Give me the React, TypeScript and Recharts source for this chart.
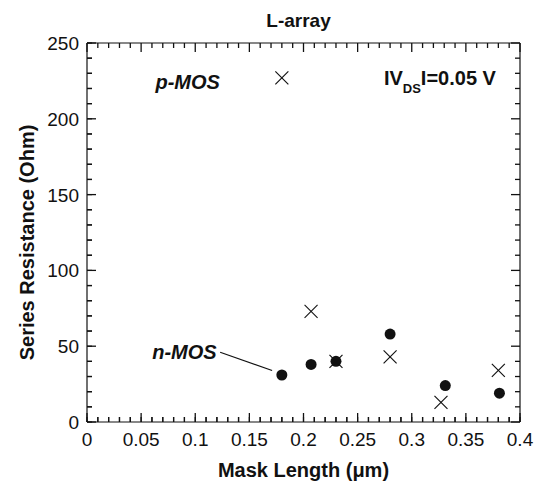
import React from "react";
import { ScatterChart, Scatter, XAxis, YAxis, ReferenceLine, ReferenceDot, Label } from "recharts";

// mask length (um) and series resistance (Ohm)
const nMosLength = [0.18, 0.207, 0.23, 0.28, 0.331, 0.381];
const nMosResistance = [31, 38, 40, 58, 24, 19];
const pMosLength = [0.18, 0.207, 0.23, 0.28, 0.327, 0.38];
const pMosResistance = [227, 73, 40, 43, 13, 34];

const xMajorTicks = [0, 0.05, 0.1, 0.15, 0.2, 0.25, 0.3, 0.35, 0.4];
const xTickLabels = ["0", "0.05", "0.1", "0.15", "0.2", "0.25", "0.3", "0.35", "0.4"];
const yMajorTicks = [0, 50, 100, 150, 200, 250];
const yTickLabels = ["0", "50", "100", "150", "200", "250"];

// minor ticks every 0.01 / every 10
const xMinorTicks = Array.from({ length: 41 }, (_, i) => i / 100);
const yMinorTicks = Array.from({ length: 26 }, (_, i) => i * 10);

const nMos = nMosLength.map((x, i) => ({ x, y: nMosResistance[i] }));
const pMos = pMosLength.map((x, i) => ({ x, y: pMosResistance[i] }));

const FONT = '"Liberation Sans", Arial, Helvetica, sans-serif';
const INK = "#111";
const MAJOR = 9;
const MINOR = 5;

const majorIdx = (list: number[], v: number) => list.findIndex((m) => Math.abs(m - v) < 1e-9);

const BottomLabel = (props: any) => (
  <text x={props.x} y={props.y + 24} textAnchor="middle" fontFamily={FONT} fontSize={19} fill={INK}>
    {xTickLabels[majorIdx(xMajorTicks, props.payload.value)] ?? ""}
  </text>
);

const LeftLabel = (props: any) => (
  <text x={props.x - 8} y={props.y + 7} textAnchor="end" fontFamily={FONT} fontSize={19} fill={INK}>
    {yTickLabels[majorIdx(yMajorTicks, props.payload.value)] ?? ""}
  </text>
);

const NoLabel = () => <g />;

// inward tick marks at both ends of a full-height / full-width reference line
const vTicks = (len: number) => (p: any) => {
  const top = Math.min(p.y1, p.y2);
  const bottom = Math.max(p.y1, p.y2);
  return (
    <g stroke={INK} strokeWidth={1.3}>
      <line x1={p.x1} x2={p.x1} y1={top} y2={top + len} />
      <line x1={p.x1} x2={p.x1} y1={bottom} y2={bottom - len} />
    </g>
  );
};

const hTicks = (len: number) => (p: any) => {
  const left = Math.min(p.x1, p.x2);
  const right = Math.max(p.x1, p.x2);
  return (
    <g stroke={INK} strokeWidth={1.3}>
      <line x1={left} x2={left + len} y1={p.y1} y2={p.y1} />
      <line x1={right} x2={right - len} y1={p.y1} y2={p.y1} />
    </g>
  );
};

const FilledDot = (props: any) => <circle cx={props.cx} cy={props.cy} r={5.5} fill={INK} />;

const Cross = (props: any) => {
  const { cx, cy } = props;
  const s = 6.5;
  return (
    <g stroke={INK} strokeWidth={1.1}>
      <line x1={cx - s} y1={cy - s} x2={cx + s} y2={cy + s} />
      <line x1={cx - s} y1={cy + s} x2={cx + s} y2={cy - s} />
    </g>
  );
};

const boldText = { fontFamily: FONT, fontWeight: 700, fill: INK } as const;
const frameLine = { stroke: INK, strokeWidth: 1.2 };

export default function App() {
  return (
    <div style={{ position: "absolute", left: 0, top: 0, width: 537, height: 483, background: "#fff" }}>
      <ScatterChart width={537} height={483} margin={{ top: 43, right: 17, bottom: 0, left: 0 }}>
        <XAxis
          xAxisId="b"
          type="number"
          dataKey="x"
          domain={[0, 0.4]}
          ticks={xMajorTicks}
          interval={0}
          height={61}
          tickSize={0}
          tickMargin={0}
          tickLine={false}
          axisLine={frameLine}
          tick={<BottomLabel />}
          allowDataOverflow
        >
          <Label
            content={(p: any) => (
              <text x={p.viewBox.x + p.viewBox.width / 2} y={p.viewBox.y + 55} textAnchor="middle" fontSize={20} {...boldText}>
                Mask Length (μm)
              </text>
            )}
          />
        </XAxis>
        <YAxis
          yAxisId="l"
          type="number"
          dataKey="y"
          domain={[0, 250]}
          ticks={yMajorTicks}
          interval={0}
          width={87}
          tickSize={0}
          tickMargin={0}
          tickLine={false}
          axisLine={frameLine}
          tick={<LeftLabel />}
          allowDataOverflow
        >
          <Label
            content={(p: any) => {
              const cx = p.viewBox.x + 27;
              const cy = p.viewBox.y + p.viewBox.height / 2 + 10;
              return (
                <text
                  x={cx}
                  y={cy}
                  textAnchor="middle"
                  dominantBaseline="central"
                  transform={`rotate(-90 ${cx} ${cy})`}
                  fontSize={20}
                  {...boldText}
                >
                  Series Resistance (Ohm)
                </text>
              );
            }}
          />
        </YAxis>

        {/* mirrored twins of the same scales: inward minor ticks on bottom and left */}
        <XAxis
          xAxisId="bm"
          mirror
          type="number"
          dataKey="x"
          domain={[0, 0.4]}
          ticks={xMinorTicks}
          interval={0}
          height={1}
          tickSize={MINOR}
          tickMargin={0}
          tickLine={frameLine}
          stroke={INK}
          axisLine={false}
          tick={NoLabel}
          allowDataOverflow
        />
        <YAxis
          yAxisId="lm"
          mirror
          type="number"
          dataKey="y"
          domain={[0, 250]}
          ticks={yMinorTicks}
          interval={0}
          width={1}
          tickSize={MINOR}
          tickMargin={0}
          tickLine={frameLine}
          stroke={INK}
          axisLine={false}
          tick={NoLabel}
          allowDataOverflow
        />

        {/* top and right sides of the frame */}
        <XAxis xAxisId="t" orientation="top" mirror type="number" domain={[0, 0.4]} height={1} tick={false} tickLine={false} axisLine={frameLine}>
          <Label
            content={(p: any) => (
              <text x={p.viewBox.x + p.viewBox.width / 2 - 5} y={p.viewBox.y - 16} textAnchor="middle" fontSize={19} {...boldText}>
                L-array
              </text>
            )}
          />
        </XAxis>
        <YAxis yAxisId="r" orientation="right" mirror type="number" domain={[0, 250]} width={1} tick={false} tickLine={false} axisLine={frameLine} />

        {/* inward tick marks on all four sides */}
        {xMinorTicks.map((v) => (
          <ReferenceLine
            key={`x${v}`}
            xAxisId="b"
            yAxisId="l"
            x={v}
            ifOverflow="visible"
            stroke={INK}
            shape={vTicks(majorIdx(xMajorTicks, v) >= 0 ? MAJOR : MINOR)}
          />
        ))}
        {yMinorTicks.map((v) => (
          <ReferenceLine
            key={`y${v}`}
            xAxisId="b"
            yAxisId="l"
            y={v}
            ifOverflow="visible"
            stroke={INK}
            shape={hTicks(majorIdx(yMajorTicks, v) >= 0 ? MAJOR : MINOR)}
          />
        ))}

        <ReferenceLine
          xAxisId="b"
          yAxisId="l"
          segment={[
            { x: 0.123, y: 46 },
            { x: 0.171, y: 34 },
          ]}
          stroke={INK}
          strokeWidth={1.2}
        />
        <ReferenceDot
          xAxisId="b"
          yAxisId="l"
          x={0.093}
          y={224}
          r={0}
          shape={(p: any) => (
            <text x={p.cx} y={p.cy + 7} textAnchor="middle" fontSize={20} fontStyle="italic" {...boldText}>
              p-MOS
            </text>
          )}
        />
        <ReferenceDot
          xAxisId="b"
          yAxisId="l"
          x={0.09}
          y={46}
          r={0}
          shape={(p: any) => (
            <text x={p.cx} y={p.cy + 7} textAnchor="middle" fontSize={20} fontStyle="italic" {...boldText}>
              n-MOS
            </text>
          )}
        />
        <ReferenceDot
          xAxisId="b"
          yAxisId="l"
          x={0.326}
          y={227}
          r={0}
          shape={(p: any) => (
            <text x={p.cx} y={p.cy + 7} textAnchor="middle" fontSize={20} {...boldText}>
              IV
              <tspan fontSize={13} dy={8}>
                DS
              </tspan>
              <tspan dy={-8}>I=0.05 V</tspan>
            </text>
          )}
        />

        <Scatter xAxisId="b" yAxisId="l" data={nMos} shape={<FilledDot />} isAnimationActive={false} />
        <Scatter xAxisId="bm" yAxisId="lm" data={pMos} shape={<Cross />} isAnimationActive={false} />
      </ScatterChart>
    </div>
  );
}
